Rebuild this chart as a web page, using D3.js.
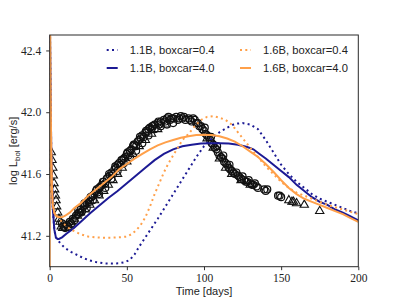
<!DOCTYPE html>
<html>
<head>
<meta charset="utf-8">
<script src="https://cdn.jsdelivr.net/npm/d3@7"></script>
<style>
body { margin: 0; background: #fff; }
</style>
</head>
<body>
<div id="chart"></div>
<script>
// model light curves: [time (days), log L]
const blueBox04 = [[0,42.7],[1,41.75],[2,41.38],[3,41.24],[4,41.19],[5,41.175],[7,41.15],[10,41.12],[14,41.095],[18,41.075],[22,41.055],[26,41.04],[30,41.03],[35,41.022],[40,41.02],[45,41.022],[49,41.03],[52,41.045],[55,41.08],[58,41.13],[62,41.19],[66,41.25],[70,41.31],[75,41.39],[80,41.47],[85,41.55],[90,41.63],[95,41.71],[100,41.78],[105,41.83],[110,41.87],[115,41.9],[120,41.925],[125,41.93],[130,41.92],[135,41.89],[140,41.82],[145,41.74],[150,41.66],[155,41.6],[160,41.55],[165,41.51],[170,41.47],[175,41.44],[180,41.42],[185,41.4],[190,41.38],[195,41.36],[200,41.345]];
const blueBox40 = [[0,42.7],[1,41.75],[2,41.38],[3,41.24],[4,41.19],[5,41.18],[6,41.18],[8,41.19],[11,41.215],[15,41.245],[20,41.29],[26,41.345],[32,41.395],[38,41.445],[44,41.49],[50,41.54],[56,41.59],[62,41.64],[68,41.69],[74,41.73],[80,41.76],[86,41.78],[92,41.79],[98,41.797],[104,41.8],[110,41.8],[116,41.797],[122,41.79],[128,41.775],[132,41.76],[136,41.73],[140,41.7],[145,41.66],[150,41.62],[155,41.58],[160,41.53],[165,41.49],[170,41.45],[175,41.42],[180,41.4],[185,41.37],[190,41.35],[195,41.325],[200,41.3]];
const orangeBox04 = [[0,43.0],[0.5,42.2],[1,41.75],[1.5,41.5],[2,41.4],[3,41.35],[4,41.33],[5,41.325],[6,41.31],[8,41.29],[10,41.27],[13,41.245],[16,41.23],[20,41.21],[25,41.195],[30,41.19],[35,41.188],[40,41.188],[45,41.19],[50,41.195],[53,41.21],[56,41.235],[59,41.27],[62,41.32],[65,41.39],[68,41.47],[71,41.54],[74,41.61],[77,41.67],[80,41.72],[83,41.77],[86,41.82],[90,41.86],[94,41.91],[98,41.95],[102,41.97],[106,41.975],[110,41.965],[114,41.95],[118,41.92],[122,41.87],[126,41.82],[130,41.77],[135,41.71],[140,41.65],[145,41.6],[150,41.55],[155,41.51],[160,41.48],[165,41.46],[170,41.44],[175,41.42],[180,41.4],[185,41.385],[190,41.37],[195,41.355],[200,41.34]];
const orangeBox40 = [[0,40.9],[0.02,43.0],[0.5,42.2],[1,41.75],[1.5,41.5],[2,41.4],[3,41.35],[4,41.33],[5,41.325],[6,41.322],[8,41.32],[10,41.33],[13,41.35],[16,41.38],[20,41.41],[25,41.46],[30,41.5],[35,41.54],[40,41.58],[45,41.63],[50,41.665],[55,41.7],[60,41.73],[65,41.76],[70,41.785],[75,41.805],[80,41.82],[85,41.835],[90,41.845],[95,41.852],[100,41.855],[105,41.853],[110,41.845],[115,41.83],[120,41.81],[125,41.78],[130,41.745],[135,41.71],[140,41.665],[145,41.615],[150,41.56],[155,41.51],[160,41.47],[165,41.44],[170,41.42],[175,41.4],[180,41.38],[185,41.36],[190,41.34],[195,41.315],[200,41.29]];

// observed points (circles)
const obsCircles = [[8,41.28],[9,41.26],[10,41.25],[11,41.27],[12,41.26],[13,41.29],[14,41.28],[15,41.31],[16,41.3],[17,41.33],[18,41.34],[19,41.35],[20,41.37],[21,41.36],[22,41.39],[23,41.4],[24,41.41],[25,41.43],[26,41.42],[27,41.45],[28,41.46],[29,41.47],[30,41.49],[31,41.48],[32,41.51],[33,41.52],[34,41.53],[35,41.55],[36,41.54],[37,41.57],[38,41.58],[39,41.59],[40,41.61],[41,41.6],[42,41.63],[43,41.64],[44,41.66],[45,41.67],[46,41.66],[47,41.69],[48,41.7],[49,41.71],[50,41.73],[51,41.72],[52,41.75],[53,41.76],[54,41.78],[55,41.79],[56,41.78],[57,41.81],[58,41.82],[59,41.83],[60,41.85],[61,41.84],[62,41.87],[63,41.87],[64,41.89],[65,41.9],[66,41.89],[67,41.91],[68,41.92],[70,41.93],[71,41.92],[72,41.94],[74,41.95],[75,41.94],[76,41.96],[78,41.95],[79,41.96],[80,41.96],[82,41.97],[83,41.95],[84,41.96],[86,41.96],[87,41.97],[88,41.95],[90,41.96],[91,41.95],[92,41.94],[94,41.95],[95,41.93],[96,41.93],[97,41.91],[98,41.91],[99,41.89],[100,41.88],[101,41.86],[102,41.85],[103,41.84],[104,41.82],[105,41.8],[106,41.79],[107,41.77],[108,41.76],[109,41.74],[110,41.72],[111,41.71],[112,41.7],[113,41.68],[114,41.67],[115,41.66],[116,41.64],[117,41.63],[118,41.62],[119,41.61],[120,41.6],[122,41.59],[123,41.58],[124,41.57],[126,41.56],[127,41.55],[128,41.55],[130,41.54],[131,41.53],[132,41.53],[134,41.52],[135,41.51],[139,41.5],[140,41.49],[141,41.5],[148,41.46],[149,41.46],[150,41.45],
  [20,41.35],[24,41.38],[28,41.43],[32,41.47],[36,41.51],[40,41.57],[44,41.62],[48,41.67],[52,41.71],[56,41.75],[60,41.8],[64,41.85],[68,41.89],[72,41.91],[76,41.92],[80,41.93],
  [18.5,41.37],[22.5,41.41],[26.5,41.45],[30.5,41.5],[34.5,41.55],[38.5,41.6],[42.5,41.65],[46.5,41.69],[50.5,41.74],[54.5,41.79],[58.5,41.84],[62.5,41.88],[66.5,41.91],[70.5,41.94],[77,41.97],[85,41.975],[93,41.96],[100.5,41.9],[104.5,41.84],[108.5,41.78],[112.5,41.72],[116.5,41.66],[121,41.61],[125,41.585],[129,41.56],[133,41.54]];
// observed points (triangles)
const obsTriangles = [[1,41.74],[1.5,41.69],[2,41.64],[2.3,41.59],[2.8,41.54],[3.2,41.5],[3.7,41.46],[4.1,41.43],[4.5,41.39],[5.2,41.35],[6,41.31],[6.7,41.29],[7.5,41.26],[8.5,41.25],[10,41.25],
  [12,41.27],[14,41.29],[16,41.31],[18,41.33],[20,41.35],[23,41.37],[26,41.4],[29,41.43],[32,41.46],[35,41.49],[38,41.53],[41,41.56],[44,41.6],[47,41.64],[50,41.68],[54,41.73],[58,41.78],[62,41.82],[66,41.86],[70,41.89],[75,41.92],
  [102,41.83],[106,41.77],[110,41.7],[114,41.64],[118,41.6],[124,41.56],[130,41.53],
  [155,41.43],[157,41.42],[158,41.42],[160,41.41],[165,41.4],[175,41.36]];

const xTicks = [0, 50, 100, 150, 200];
const yTicks = [41.2, 41.6, 42.0, 42.4];
const seriesNames = ["1.1B, boxcar=0.4", "1.1B, boxcar=4.0", "1.6B, boxcar=0.4", "1.6B, boxcar=4.0"];

const BLUE = "#1c1a94";
const ORANGE = "#ffa04a";

function drawChart()
{
    width = 399;
    height = 299;
    margin = ({top: 35, right: 40.7, bottom: 32.3, left: 49.7});
    const xScale = d3.scaleLinear([0, 200], [margin.left, width - margin.right]);
    const yScale = d3.scaleLinear([41.0, 42.5], [height - margin.bottom, margin.top]);

    const svg = d3.select("#chart").append("svg")
        .attr("width", width)
        .attr("height", height)
        .attr("viewBox", [0, 0, width, height]);

    svg.append("defs").append("clipPath")
        .attr("id", "plotClip")
        .append("rect")
        .attr("x", margin.left)
        .attr("y", margin.top)
        .attr("width", width - margin.left - margin.right)
        .attr("height", height - margin.top - margin.bottom);

    const plot = svg.append("g").attr("clip-path", "url(#plotClip)");

    // observed circles
    plot.append("g")
        .selectAll("circle")
        .data(obsCircles)
        .join("circle")
        .attr("cx", d => xScale(d[0]))
        .attr("cy", d => yScale(d[1]))
        .attr("r", 3.5)
        .attr("fill", "none")
        .attr("stroke", "#111")
        .attr("stroke-width", 1.2);

    // observed triangles
    const tri = d3.symbol().type(d3.symbolTriangle).size(30);
    plot.append("g")
        .selectAll("path")
        .data(obsTriangles)
        .join("path")
        .attr("transform", d => `translate(${xScale(d[0])},${yScale(d[1])})`)
        .attr("d", tri)
        .attr("fill", "none")
        .attr("stroke", "#111")
        .attr("stroke-width", 1.1);

    // model curves
    const line = d3.line().x(d => xScale(d[0])).y(d => yScale(d[1]));
    const curves = [
        {data: blueBox04, color: BLUE, dash: "2,3.3"},
        {data: blueBox40, color: BLUE, dash: null},
        {data: orangeBox04, color: ORANGE, dash: "2,3.3"},
        {data: orangeBox40, color: ORANGE, dash: null}
    ];
    plot.append("g")
        .selectAll("path")
        .data(curves)
        .join("path")
        .attr("d", d => line(d.data))
        .attr("fill", "none")
        .attr("stroke", d => d.color)
        .attr("stroke-width", 2)
        .attr("stroke-dasharray", d => d.dash);

    // axes
    const xAxis = d3.axisBottom(xScale).tickValues(xTicks).tickSize(3.5).tickPadding(3.5);
    const yAxis = d3.axisLeft(yScale).tickValues(yTicks).tickFormat(d3.format(".1f")).tickSize(3.5).tickPadding(5);
    svg.append("g")
        .attr("transform", `translate(0,${height - margin.bottom})`)
        .call(xAxis)
        .call(g => g.select(".domain").remove())
        .call(g => g.selectAll("text").attr("font-family", "'Liberation Serif', serif").attr("font-size", 11.5).attr("fill", "#222"))
        .call(g => g.selectAll("line").attr("stroke", "#333"));
    svg.append("g")
        .attr("transform", `translate(${margin.left},0)`)
        .call(yAxis)
        .call(g => g.select(".domain").remove())
        .call(g => g.selectAll("text").attr("font-family", "'Liberation Serif', serif").attr("font-size", 11.5).attr("fill", "#222"))
        .call(g => g.selectAll("line").attr("stroke", "#333"));

    // frame
    svg.append("rect")
        .attr("x", margin.left)
        .attr("y", margin.top)
        .attr("width", width - margin.left - margin.right)
        .attr("height", height - margin.top - margin.bottom)
        .attr("fill", "none")
        .attr("stroke", "#2a2a2a")
        .attr("stroke-width", 1);

    // axis labels
    svg.append("text")
        .attr("x", (margin.left + width - margin.right) / 2)
        .attr("y", 295)
        .attr("text-anchor", "middle")
        .attr("font-family", "'Liberation Sans', sans-serif")
        .attr("font-size", 11)
        .attr("fill", "#222")
        .text("Time [days]");
    const ylab = svg.append("text")
        .attr("transform", `translate(17,${(margin.top + height - margin.bottom) / 2}) rotate(-90)`)
        .attr("text-anchor", "middle")
        .attr("font-family", "'Liberation Sans', sans-serif")
        .attr("font-size", 11)
        .attr("fill", "#222");
    ylab.append("tspan").text("log L");
    ylab.append("tspan").attr("font-size", 8).attr("dy", 2.5).text("bol");
    ylab.append("tspan").attr("dy", -2.5).text(" [erg/s]");

    // legend
    const legendPos = [[106.7, 50], [106.7, 68], [240, 50], [240, 68]];
    const legend = svg.append("g")
        .selectAll("g")
        .data(curves)
        .join("g")
        .attr("transform", (d, i) => `translate(${legendPos[i][0]},${legendPos[i][1]})`);
    legend.append("line")
        .attr("x1", 0)
        .attr("x2", 11)
        .attr("stroke", d => d.color)
        .attr("stroke-width", 2)
        .attr("stroke-dasharray", d => d.dash);
    legend.append("text")
        .attr("x", 23)
        .attr("dy", "0.35em")
        .attr("font-family", "'Liberation Sans', sans-serif")
        .attr("font-size", 11.2)
        .attr("fill", "#222")
        .text((d, i) => seriesNames[i]);

    return svg.node();
}

drawChart();
</script>
</body>
</html>
